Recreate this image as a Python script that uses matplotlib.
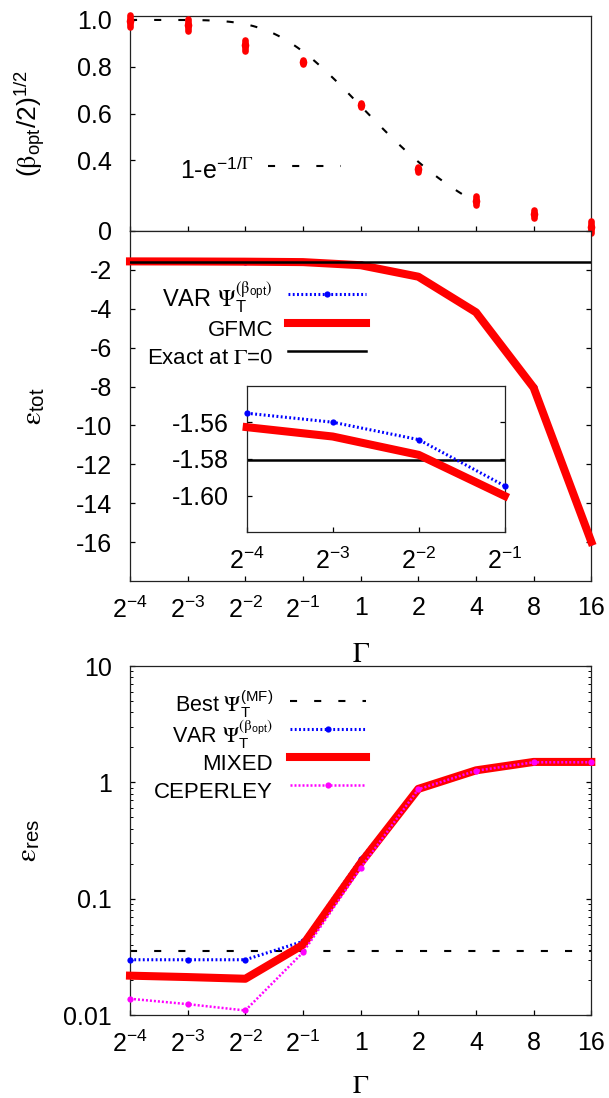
import numpy as np
import matplotlib
matplotlib.use('Agg')
import matplotlib.pyplot as plt
from matplotlib.lines import Line2D
from matplotlib.ticker import NullLocator, LogLocator, NullFormatter

plt.rcParams['font.family'] = ['Liberation Sans', 'DejaVu Sans']
plt.rcParams['mathtext.fontset'] = 'custom'
plt.rcParams['mathtext.rm'] = 'STIXGeneral'
plt.rcParams['mathtext.it'] = 'STIXGeneral:italic'
plt.rcParams['mathtext.sf'] = 'Liberation Sans'
plt.rcParams['mathtext.default'] = 'rm'
plt.rcParams['axes.unicode_minus'] = False

# ---------------- data ----------------
gamma = [1/16, 1/8, 1/4, 1/2, 1, 2, 4, 8, 16]
gamma_ticklabels = [r'$\mathsf{2^{-4}}$', r'$\mathsf{2^{-3}}$', r'$\mathsf{2^{-2}}$',
                    r'$\mathsf{2^{-1}}$', '1', '2', '4', '8', '16']

beta_sqrt = [0.996, 0.977, 0.891, 0.820, 0.637, 0.361, 0.227, 0.171, 0.115]
beta_sqrt_err = [0.026, 0.026, 0.022, 0.010, 0.010, 0.010, 0.020, 0.018, 0.024]
curve_gamma_range = (1/16, 3.4)

etot_var = [-1.5551, -1.5600, -1.5695, -1.5947, -1.72, -2.32, -4.15, -8.02, -15.98]
etot_gfmc = [-1.5627, -1.5678, -1.5778, -1.6002, -1.76, -2.35, -4.18, -8.06, -15.98]
etot_exact = -1.5808
inset_n = 4

eres_best = 0.0356
eres_var = [0.0300, 0.0300, 0.0300, 0.0431, 0.220, 0.889, 1.278, 1.507, 1.507]
eres_mixed = [0.0219, 0.0213, 0.0206, 0.0403, 0.203, 0.880, 1.270, 1.500, 1.500]
eres_ceperley = [0.01387, 0.01247, 0.0110, 0.0347, 0.184, 0.873, 1.260, 1.490, 1.490]

# ---------------- styles ----------------
W, H = 609, 1098
TFS = 18
LFS = 16
var_style = dict(color='#0000ff', lw=2.2, ls=(0, (0.6, 0.8)), marker='o', ms=4.5,
                 markeredgewidth=0)
gfmc_style = dict(color='#ff0000', lw=5.8, ls='-')
exact_style = dict(color='black', lw=1.8, ls='-')
ceper_style = dict(color='#ff00ff', lw=1.8, ls=(0, (0.8, 0.8)), marker='o', ms=4.5,
                   markeredgewidth=0)
best_style = dict(color='black', lw=1.5, ls=(0, (3.4, 8.2)))

fig = plt.figure(figsize=(W / 100, H / 100), dpi=100)


def fx(px):
    return px / W


def fy(py):
    return 1 - py / H


def axes_rect(x0, y0, x1, y1):
    return [fx(x0), fy(y1), fx(x1) - fx(x0), fy(y0) - fy(y1)]


def key(text, y, x_text, x0, x1, style, fs=LFS, dy=13):
    fig.text(fx(x_text), fy(y + dy), text, ha='right', va='baseline', fontsize=fs)
    st = dict(style)
    mk = st.pop('marker', None)
    ms = st.pop('ms', None)
    st.pop('markeredgewidth', None)
    fig.add_artist(Line2D([fx(x0), fx(x1)], [fy(y), fy(y)], transform=fig.transFigure, **st))
    if mk:
        fig.add_artist(Line2D([fx(x0 + 0.5 * (x1 - x0))], [fy(y)], transform=fig.transFigure,
                              ls='none', marker=mk, ms=ms, color=st['color'], markeredgewidth=0))


def style_axes(ax, right=True):
    for s in ax.spines.values():
        s.set_linewidth(0.9)
        s.set_color('#222222')
    ax.tick_params(which='major', direction='in', length=3.4, width=0.9,
                   labelsize=TFS, pad=11, top=False, right=right)
    ax.tick_params(which='minor', direction='in', length=2.0, width=0.7, top=False, right=right)
    ax.tick_params(axis='y', pad=13)


def set_gamma_axis(ax, lo, hi, labels=True):
    ax.set_xscale('log', base=2)
    ax.set_xlim(lo, hi)
    ticks = [g for g in gamma if lo <= g <= hi]
    ax.set_xticks(ticks)
    ax.set_xticklabels([gamma_ticklabels[gamma.index(t)] for t in ticks])
    ax.xaxis.set_minor_locator(NullLocator())
    if not labels:
        ax.tick_params(axis='x', labelbottom=False)


# ---------------- top panel ----------------
ax1 = fig.add_axes(axes_rect(130, 15.7, 591.3, 231))
set_gamma_axis(ax1, 1/16, 16, labels=False)
ax1.set_ylim(0.098, 1.018)
ax1.set_yticks([0.4, 0.6, 0.8, 1.0])
ax1.set_yticklabels(['0.4', '0.6', '0.8', '1.0'])
style_axes(ax1, right=False)
gc = np.geomspace(curve_gamma_range[0], curve_gamma_range[1], 300)
ax1.plot(gc, 1 - np.exp(-1 / gc), **best_style)
b_lo = np.array(beta_sqrt) - np.array(beta_sqrt_err)
b_hi = np.array(beta_sqrt) + np.array(beta_sqrt_err)
ax1.vlines(gamma, b_lo, b_hi, colors='#ff0000', linewidth=4.8, linestyles='solid',
           capstyle='round', clip_on=False, zorder=5)
ax1.plot(gamma, beta_sqrt, ls='none', marker='o', ms=5.5, color='#ff0000',
         markeredgewidth=0, clip_on=False, zorder=6)
ax1.set_ylabel(r'$\mathsf{(}\beta_{\mathsf{opt}}\mathsf{/2)}^{\mathsf{1/2}}$', fontsize=19)
ax1.yaxis.set_label_coords(-0.18, 0.5)
key(r'1-e$^{\mathsf{-1/}\Gamma}$', 166, 253, 268, 341, best_style, fs=18, dy=13)

# ---------------- middle panel ----------------
ax2 = fig.add_axes(axes_rect(130, 231, 591.3, 581))
set_gamma_axis(ax2, 1/16, 16)
ax2.set_ylim(-18, 0)
ax2.set_yticks(list(range(-16, 1, 2)))
ax2.set_yticklabels([str(v) for v in range(-16, 1, 2)])
style_axes(ax2)
ax2.plot(gamma, etot_var, clip_on=False, zorder=3, **var_style)
ax2.plot(gamma, etot_gfmc, clip_on=False, zorder=4, **gfmc_style)
ax2.axhline(etot_exact, zorder=5, **exact_style)
ax2.set_ylabel(r'$\varepsilon_{\mathsf{tot}}$', fontsize=21)
ax2.yaxis.set_label_coords(-0.18, 0.5)
ax2.set_xlabel(r'$\Gamma$', fontsize=20)
ax2.xaxis.set_label_coords(0.5, -0.175)
key(r'VAR $\Psi_{\mathsf{T}}^{(\beta_{\mathsf{opt}})}$', 294, 273, 288, 366, var_style,
    fs=17, dy=12)
key('GFMC', 322.7, 273, 288, 366, gfmc_style)
key(r'Exact at $\Gamma$=0', 351, 273, 288, 366, exact_style)

# ---------------- inset ----------------
axin = fig.add_axes(axes_rect(246.7, 385.5, 504.7, 532.3))
axin.set_facecolor('white')
set_gamma_axis(axin, 1/16, 1/2)
axin.set_ylim(-1.62, -1.54)
axin.set_yticks([-1.60, -1.58, -1.56])
axin.set_yticklabels(['-1.60', '-1.58', '-1.56'])
style_axes(axin)
axin.axhline(etot_exact, zorder=2, **exact_style)
axin.plot(gamma[:inset_n], etot_gfmc[:inset_n], clip_on=False, zorder=3, **gfmc_style)
axin.plot(gamma[:inset_n], etot_var[:inset_n], clip_on=False, zorder=4, **var_style)

# ---------------- bottom panel ----------------
ax3 = fig.add_axes(axes_rect(130, 666, 591.3, 1015.3))
set_gamma_axis(ax3, 1/16, 16)
ax3.set_yscale('log')
ax3.set_ylim(0.01, 10)
ax3.set_yticks([0.01, 0.1, 1, 10])
ax3.set_yticklabels(['0.01', '0.1', '1', '10'])
ax3.yaxis.set_minor_locator(LogLocator(base=10, subs=np.arange(2, 10)))
ax3.yaxis.set_minor_formatter(NullFormatter())
style_axes(ax3)
ax3.axhline(eres_best, **best_style)
ax3.plot(gamma, eres_var, clip_on=False, zorder=3, **var_style)
ax3.plot(gamma, eres_mixed, clip_on=False, zorder=4, **gfmc_style)
ax3.plot(gamma, eres_ceperley, clip_on=False, zorder=5, **ceper_style)
ax3.set_ylabel(r'$\varepsilon_{\mathsf{res}}$', fontsize=21)
ax3.yaxis.set_label_coords(-0.19, 0.5)
ax3.set_xlabel(r'$\Gamma$', fontsize=19)
ax3.xaxis.set_label_coords(0.5, -0.168)
key(r'Best $\Psi_{\mathsf{T}}^{\mathsf{(MF)}}$', 700.7, 273, 290, 366, best_style,
    fs=15.5, dy=11)
key(r'VAR $\Psi_{\mathsf{T}}^{(\beta_{\mathsf{opt}})}$', 729, 273, 290, 366, var_style,
    fs=15.5, dy=14)
key('MIXED', 757, 273, 290, 366, gfmc_style)
key('CEPERLEY', 785.3, 273, 290, 366, ceper_style)

fig.savefig('out.png', dpi=100)
